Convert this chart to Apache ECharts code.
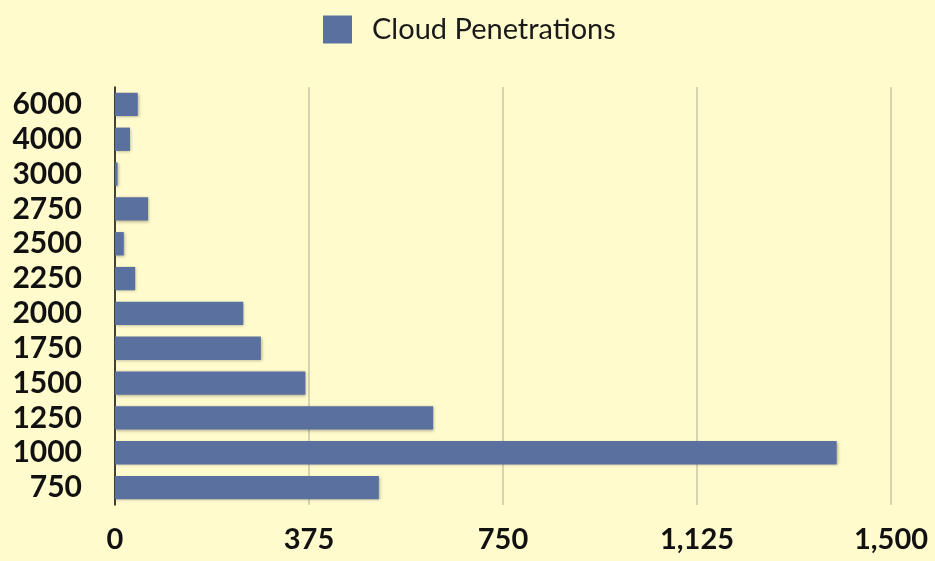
<!DOCTYPE html>
<html>
<head>
<meta charset="utf-8">
<script src="https://cdn.jsdelivr.net/npm/echarts@6/dist/echarts.min.js"></script>
<style>
  html, body { margin: 0; padding: 0; background: #fffbcc; }
  #chart { width: 935px; height: 561px; }
</style>
</head>
<body>
<div id="chart"></div>
<script>
// Altitude bins (ft), bottom to top
const categories = ['750', '1000', '1250', '1500', '1750', '2000', '2250', '2500', '2750', '3000', '4000', '6000'];
// Number of cloud penetrations per bin
const penetrations = [510, 1395, 615, 368, 282, 248, 39, 17, 64, 5, 29, 44];
const seriesName = 'Cloud Penetrations';
const xTicks = [0, 375, 750, 1125, 1500];

const fontFamily = 'Lato, "Open Sans", sans-serif';
const chart = echarts.init(document.getElementById('chart'));

chart.setOption({
  backgroundColor: '#fffbcc',
  animation: false,
  legend: {
    top: 10,
    left: 318,
    itemWidth: 29,
    itemHeight: 28,
    itemGap: 10,
    icon: 'rect',
    textStyle: { fontFamily, fontSize: 29, color: '#1a1a1a', padding: [0, 0, 0, 15] },
    data: [seriesName]
  },
  grid: { left: 115, right: 44, top: 87, bottom: 56, containLabel: false },
  xAxis: {
    type: 'value',
    min: xTicks[0],
    max: xTicks[xTicks.length - 1],
    interval: xTicks[1] - xTicks[0],
    axisLine: { show: false },
    axisTick: { show: false },
    splitLine: { show: true, lineStyle: { color: '#c9c6a6', width: 1.5 } },
    axisLabel: {
      fontFamily, fontSize: 29, color: '#111', margin: 20, fontWeight: 'bold',
      formatter: v => v.toLocaleString('en-US')
    }
  },
  yAxis: {
    type: 'category',
    data: categories,
    axisLine: { show: true, lineStyle: { color: '#111', width: 1.5 } },
    axisTick: { show: false },
    axisLabel: {
      interval: 0, fontFamily, fontSize: 30, lineHeight: 30,
      color: '#111', margin: 33, fontWeight: 'bold'
    }
  },
  series: [{
    name: seriesName,
    type: 'bar',
    data: penetrations,
    barCategoryGap: '33%',
    itemStyle: {
      color: '#5a71a0',
      shadowColor: 'rgba(40,40,40,0.35)',
      shadowBlur: 3,
      shadowOffsetX: 1,
      shadowOffsetY: 1
    }
  }]
});
</script>
</body>
</html>
